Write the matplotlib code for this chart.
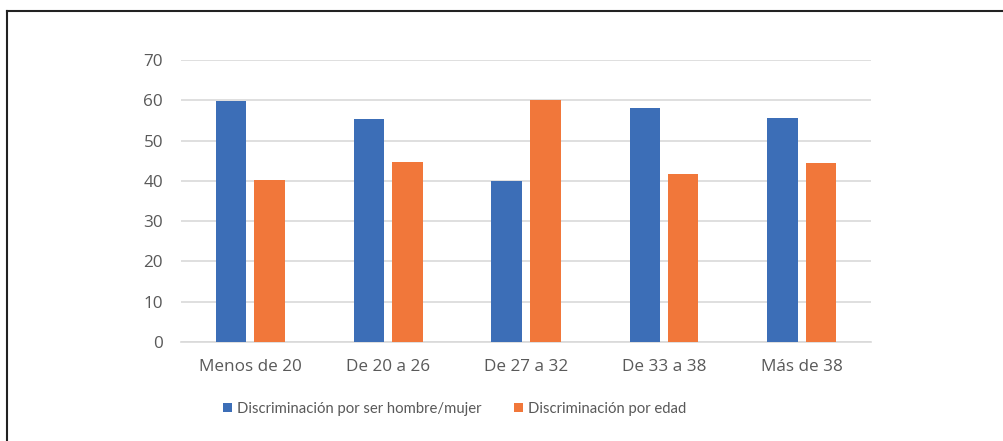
import numpy as np
import matplotlib.pyplot as plt
from matplotlib.lines import Line2D

categorias = ["Menos de 20", "De 20 a 26", "De 27 a 32", "De 33 a 38", "Más de 38"]
sexo = [59.8, 55.3, 40.0, 58.2, 55.6]
edad = [40.1, 44.7, 60.0, 41.7, 44.5]
series = ["Discriminación por ser hombre/mujer", "Discriminación por edad"]

azul = "#3c6eb7"
naranja = "#f1773a"
gris_texto = "#595959"

plt.rcParams["font.family"] = ["Open Sans", "DejaVu Sans"]

fig = plt.figure(figsize=(10.04, 4.41), dpi=100)
ax = fig.add_axes([181 / 1004, 1 - 342 / 441, 690 / 1004, 282 / 441])

x = np.arange(len(categorias))
ancho = 0.22
ax.bar(x - 0.14, sexo, ancho, color=azul, label=series[0], zorder=3)
ax.bar(x + 0.14, edad, ancho, color=naranja, label=series[1], zorder=3)

ax.set_xlim(-0.5, len(categorias) - 0.5)
ax.set_ylim(0, 70)
ax.set_yticks(range(0, 71, 10))
ax.set_xticks(x)
ax.set_xticklabels(categorias)
ax.yaxis.grid(True, color="#d9d9d9", linewidth=1.2, zorder=0)
ax.tick_params(axis="both", length=0, labelsize=12.3, colors=gris_texto)
ax.tick_params(axis="y", pad=13)
ax.tick_params(axis="x", pad=12)
for lado in ["top", "right", "left"]:
    ax.spines[lado].set_visible(False)
ax.spines["bottom"].set_color("#d9d9d9")
ax.spines["bottom"].set_linewidth(1.2)

fig.legend(
    loc="center",
    bbox_to_anchor=(0.453, 1 - 409 / 441),
    ncol=2,
    frameon=False,
    prop={"family": ["Lato", "DejaVu Sans"], "size": 10.7},
    labelcolor=gris_texto,
    handlelength=0.6,
    handleheight=0.6,
    handletextpad=0.35,
    columnspacing=2.2,
)

# marco exterior (solo bordes superior e izquierdo visibles)
izq = 6.5 / 1004
sup = 1 - 10.5 / 441
fig.add_artist(Line2D([izq, 1.0], [sup, sup], color="#222222", linewidth=1.5, transform=fig.transFigure))
fig.add_artist(Line2D([izq, izq], [0.0, sup], color="#222222", linewidth=1.5, transform=fig.transFigure))

plt.savefig("out.png", dpi=100)
